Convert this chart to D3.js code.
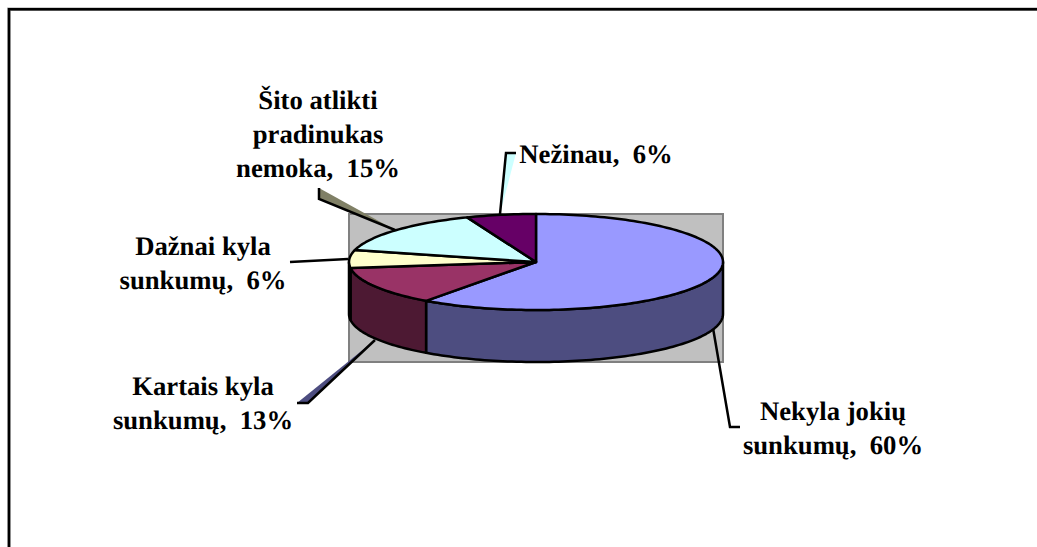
<!DOCTYPE html>
<html>
<head>
<meta charset="utf-8">
<script src="https://d3js.org/d3.v7.min.js"></script>
<style>
html, body { margin: 0; padding: 0; background: #fff; }
svg { display: block; }
text { font-family: "Liberation Serif", serif; font-weight: bold; font-size: 26.7px; fill: #000; text-anchor: middle; text-rendering: geometricPrecision; }
</style>
</head>
<body>
<script>
// slices go clockwise from 12 o'clock
var categories = ['Nekyla jokių sunkumų', 'Kartais kyla sunkumų', 'Dažnai kyla sunkumų', 'Šito atlikti pradinukas nemoka', 'Nežinau'];
var values = [60, 13, 6, 15, 6];
var topColors = ['#9999ff', '#993366', '#ffffcc', '#ccffff', '#660066'];
var sideColors = ['#4d4d80', '#4d1933', '#808066', '#668080', '#330033'];
var wedgeColors = [null, '#4d4d80', null, '#808066', '#ccffff'];
var labelLines = [
	['Nekyla jokių', 'sunkumų,  60%'],
	['Kartais kyla', 'sunkumų,  13%'],
	['Dažnai kyla', 'sunkumų,  6%'],
	['Šito atlikti', 'pradinukas', 'nemoka,  15%'],
	['Nežinau,  6%']
];

var width = 1037;
var height = 547;
var svg = d3.select('body').append('svg').attr('width', width).attr('height', height);

// pie geometry in screen pixels
var cx = 536, cy = 262, rx = 187, ry = 48, depth = 52;
// x and y run from -1..1 on the unit circle, squashed into the ellipse
var px = d3.scaleLinear().domain([-1, 1]).range([cx - rx, cx + rx]);
var py = d3.scaleLinear().domain([-1, 1]).range([cy - ry, cy + ry]);

var pie = d3.pie().sort(null).value(function(d) { return d; });
var arcs = pie(values);

function rim(a0, a1, dy) {
	var n = Math.max(2, Math.ceil((a1 - a0) * 40));
	return d3.range(n + 1).map(function(i) {
		var a = a0 + (a1 - a0) * i / n;
		return [px(Math.sin(a)), py(-Math.cos(a)) + dy];
	});
}
var line = d3.line();

// outer frame, it runs off the page at the right and the bottom
var frameD = 'M9,' + height + 'V9.3H' + width;
svg.append('path').attr('d', frameD).attr('fill', 'none').attr('stroke', '#a0a0a0').attr('stroke-width', 3.6);
svg.append('path').attr('d', frameD).attr('fill', 'none').attr('stroke', '#000').attr('stroke-width', 2.4);

// gray plot area behind the pie
svg.append('rect').attr('x', cx - rx).attr('y', cy - ry).attr('width', 2 * rx).attr('height', 2 * ry + depth)
	.attr('fill', '#c0c0c0').attr('stroke', '#808080').attr('stroke-width', 2);

// leader lines, from the label end to the point on the pie
var leaders = [
	[[740, 427], [730, 427], [713, 328]],
	[[297, 403], [308, 403], [375, 340]],
	[[290, 262], [348, 259]],
	[[319, 188], [319, 199], [395, 230]],
	[[516, 153], [506, 153], [500, 214]]
];
var leaderG = svg.append('g');
leaders.forEach(function(l, i) {
	// some leaders carry a coloured wedge on their closed outline
	if (wedgeColors[i]) {
		leaderG.append('path').attr('d', line(l) + 'Z').attr('fill', wedgeColors[i]);
	}
	leaderG.append('path').attr('d', line(l)).attr('fill', 'none').attr('stroke', '#000').attr('stroke-width', 2.5);
});

// side wall, only the part facing the viewer (PI/2 .. 3PI/2 on the pie)
var pieG = svg.append('g').attr('stroke', '#000').attr('stroke-width', 2.5).attr('stroke-linejoin', 'round');
arcs.forEach(function(d, i) {
	var a0 = Math.max(d.startAngle, Math.PI / 2);
	var a1 = Math.min(d.endAngle, 3 * Math.PI / 2);
	if (a1 <= a0) {
		return;
	}
	var pts = rim(a0, a1, 0).concat(rim(a0, a1, depth).reverse());
	pieG.append('path').attr('d', line(pts) + 'Z').attr('fill', sideColors[i]);
});

// top face
arcs.forEach(function(d, i) {
	var pts = [[cx, cy]].concat(rim(d.startAngle, d.endAngle, 0));
	pieG.append('path').attr('d', line(pts) + 'Z').attr('fill', topColors[i]);
});

// labels: centre x and first baseline
var labelPos = [[833, 420], [203, 395], [203, 255], [318, 109], [596, 163]];
labelLines.forEach(function(lines, i) {
	var t = svg.append('text').attr('aria-label', categories[i]);
	lines.forEach(function(s, j) {
		t.append('tspan').attr('x', labelPos[i][0]).attr('y', labelPos[i][1] + j * 34).style('white-space', 'pre').text(s);
	});
});
</script>
</body>
</html>
